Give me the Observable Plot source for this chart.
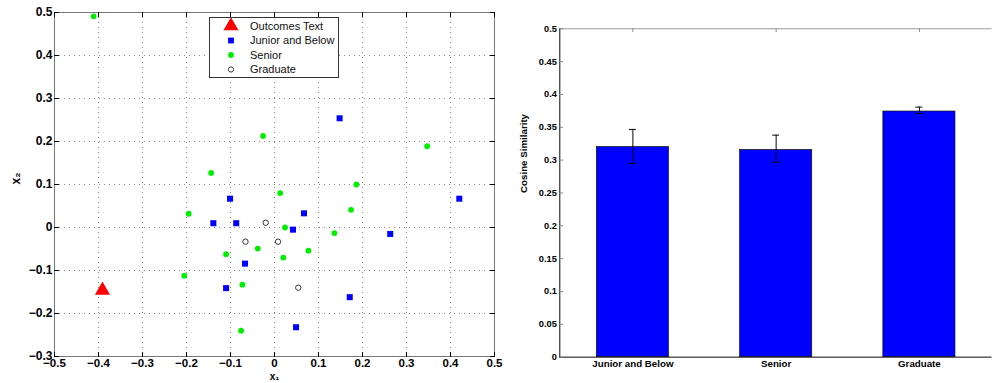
<!DOCTYPE html>
<html><head><meta charset="utf-8">
<script src="https://cdn.jsdelivr.net/npm/d3@7"></script>
<script src="https://cdn.jsdelivr.net/npm/@observablehq/plot@0.6"></script>
<style>
html,body{margin:0;padding:0;background:#fff;}
#wrap{position:relative;width:992px;height:383px;overflow:hidden;background:#fff;font-family:"Liberation Sans",Arial,sans-serif;}
#left,#right,#legend{position:absolute;}
#left{left:0;top:0;}
#right{left:495px;top:0;}
#legend{left:209px;top:17px;}
svg{overflow:visible;}
</style></head><body>
<div id="wrap"><div id="left"></div><div id="right"></div><div id="legend"></div></div>
<script>
// ---------- Left panel data (2-D embedding) ----------
const seriesNames = ["Outcomes Text", "Junior and Below", "Senior", "Graduate"];
const outcomesX = [-0.391];
const outcomesY = [-0.146];
const juniorX = [0.148, -0.101, 0.420, 0.067, -0.139, -0.087, 0.042, 0.263, -0.067, -0.110, 0.171, 0.049];
const juniorY = [0.254, 0.067, 0.067, 0.033, 0.010, 0.010, -0.005, -0.015, -0.084, -0.141, -0.162, -0.232];
const seniorX = [-0.411, -0.026, 0.347, -0.144, 0.186, 0.013, -0.195, 0.174, 0.024, 0.136, -0.038, 0.077, -0.110, 0.020, -0.205, -0.073, -0.076];
const seniorY = [0.491, 0.213, 0.189, 0.127, 0.100, 0.080, 0.032, 0.041, 0.000, -0.013, -0.049, -0.054, -0.062, -0.070, -0.112, -0.133, -0.240];
const gradX = [-0.020, -0.066, 0.008, 0.054];
const gradY = [0.011, -0.033, -0.033, -0.140];
const xTicks = [-0.5, -0.4, -0.3, -0.2, -0.1, 0, 0.1, 0.2, 0.3, 0.4, 0.5];
const yTicks = [-0.3, -0.2, -0.1, 0, 0.1, 0.2, 0.3, 0.4, 0.5];

// ---------- Right panel data (bar chart) ----------
const categories = ["Junior and Below", "Senior", "Graduate"];
const means = [0.320, 0.3155, 0.374];
const errLow = [0.2946, 0.2967, 0.371];
const errHigh = [0.3467, 0.338, 0.3807];
const simTicks = [0, 0.05, 0.1, 0.15, 0.2, 0.25, 0.3, 0.35, 0.4, 0.45, 0.5];

const zipPts = (xs, ys) => xs.map((x, i) => ({x, y: ys[i]}));
const outcomes = zipPts(outcomesX, outcomesY);
const junior = zipPts(juniorX, juniorY);
const senior = zipPts(seniorX, seniorY);
const grad = zipPts(gradX, gradY);
const bars = categories.map((c, i) => ({cat: c, v: means[i], lo: errLow[i], hi: errHigh[i]}));

const tickShape = {draw(ctx, l) { ctx.moveTo(0, 0); ctx.lineTo(0, -l); }};
const inTicks = (data, ch, anchor, rot, len, stroke) =>
  Plot.vector(data, {[ch]: d => d, frameAnchor: anchor, rotate: rot, length: len, anchor: "start", shape: tickShape, stroke, strokeWidth: 1});

const fmt1 = d => d === 0 ? "0" : (d < 0 ? "\u2212" : "") + Math.abs(d).toFixed(1);
const fmt2 = d => d === 0 ? "0" : String(+d.toFixed(2));
const FONT = "Liberation Sans, Arial, sans-serif";

const left = Plot.plot({
  width: 500, height: 383,
  marginLeft: 54, marginRight: 6, marginTop: 12, marginBottom: 27,
  style: {fontFamily: FONT, background: "transparent", overflow: "visible"},
  x: {domain: [-0.5, 0.5], axis: null},
  y: {domain: [-0.3, 0.5], axis: null},
  marks: [
    Plot.gridX(xTicks.slice(1, -1), {stroke: "#8a8a8a", strokeOpacity: 1, strokeDasharray: "1,4"}),
    Plot.gridY(yTicks.slice(1, -1), {stroke: "#8a8a8a", strokeOpacity: 1, strokeDasharray: "1,4"}),
    Plot.frame({stroke: "#777", strokeWidth: 1}),
    inTicks(xTicks, "x", "bottom", 0, 4, "#000"),
    inTicks(xTicks, "x", "top", 180, 4, "#000"),
    inTicks(yTicks, "y", "left", 90, 4, "#000"),
    inTicks(yTicks, "y", "right", -90, 4, "#000"),
    Plot.axisX(xTicks, {tickSize: 0, tickPadding: 2, tickFormat: fmt1, fontSize: 11.5, fontWeight: "bold", fill: "#000", label: null}),
    Plot.axisY(yTicks, {tickSize: 0, tickPadding: 2, tickFormat: fmt1, fontSize: 12, fontWeight: "bold", fill: "#000", label: null}),
    Plot.text(["x\u2081"], {frameAnchor: "bottom", text: d => d, dy: 23, fontSize: 10, fontWeight: "bold", fill: "#000"}),
    Plot.text(["x\u2082"], {frameAnchor: "left", text: d => d, dx: -38, rotate: -90, fontSize: 12, fontWeight: "bold", fill: "#000"}),
    Plot.dot(senior, {x: "x", y: "y", r: 2.9, fill: "#00ee00", symbol: "circle"}),
    Plot.dot(junior, {x: "x", y: "y", r: 3.4, fill: "#0000ff", symbol: "square"}),
    Plot.dot(grad, {x: "x", y: "y", r: 2.7, fill: "none", stroke: "#222", strokeWidth: 0.9, symbol: "circle"}),
    Plot.dot(outcomes, {x: "x", y: "y", r: 5.6, fill: "#ff0000", symbol: "triangle"})
  ]
});
document.getElementById("left").appendChild(left);

// Legend (overlay box inside left axes)
{
  const W = 130, H = 61;
  const svg = d3.select("#legend").append("svg").attr("width", W).attr("height", H).style("display", "block");
  svg.append("rect").attr("x", 0.5).attr("y", 0.5).attr("width", W - 1).attr("height", H - 1)
    .attr("fill", "#fff").attr("stroke", "#333").attr("stroke-width", 1);
  const rowY = [9, 23.5, 38, 52.5];
  const sx = 22;
  seriesNames.forEach((name, i) => {
    const y = rowY[i];
    if (i === 0) svg.append("path").attr("transform", `translate(${sx},${y})`).attr("d", d3.symbol(d3.symbolTriangle, 98)()).attr("fill", "#ff0000");
    if (i === 1) svg.append("path").attr("transform", `translate(${sx},${y})`).attr("d", d3.symbol(d3.symbolSquare, 34)()).attr("fill", "#0000ff");
    if (i === 2) svg.append("circle").attr("cx", sx).attr("cy", y).attr("r", 2.9).attr("fill", "#00ee00");
    if (i === 3) svg.append("circle").attr("cx", sx).attr("cy", y).attr("r", 2.6).attr("fill", "none").attr("stroke", "#222").attr("stroke-width", 0.9);
    svg.append("text").attr("x", 41).attr("y", y).attr("dy", "0.36em").attr("font-family", FONT).attr("font-size", 11).attr("fill", "#111").text(name);
  });
}

const right = Plot.plot({
  width: 510, height: 383,
  marginLeft: 66, marginRight: 1.5, marginTop: 29, marginBottom: 17,
  style: {fontFamily: FONT, background: "transparent", overflow: "visible"},
  x: {type: "band", domain: categories, paddingInner: 0.5, paddingOuter: 0.25, axis: null},
  y: {domain: [0, 0.5], axis: null},
  marks: [
    Plot.barY(bars, {x: "cat", y: "v", fill: "#0000ff", stroke: "#111", strokeWidth: 0.7}),
    Plot.ruleX(bars, {x: "cat", y1: "lo", y2: "hi", stroke: "#000", strokeWidth: 1}),
    Plot.tickY(bars, {x: "cat", y: "lo", stroke: "#000", insetLeft: 33.4, insetRight: 33.4}),
    Plot.tickY(bars, {x: "cat", y: "hi", stroke: "#000", insetLeft: 33.4, insetRight: 33.4}),
    Plot.frame({anchor: "top", stroke: "#999"}),
    Plot.frame({anchor: "left", stroke: "#000"}),
    Plot.frame({anchor: "bottom", stroke: "#000"}),
    inTicks(simTicks, "y", "left", 90, 3, "#888"),
    inTicks(categories, "x", "top", 180, 3, "#888"),
    Plot.axisY(simTicks, {tickSize: 0, tickPadding: 3, tickFormat: fmt2, fontSize: 9.5, fontWeight: "bold", fill: "#000", label: null}),
    Plot.axisX(categories, {tickSize: 0, tickPadding: 3, fontSize: 10, fontWeight: "bold", fill: "#000", label: null}),
    Plot.text(["Cosine Similarity"], {frameAnchor: "left", text: d => d, dx: -37, rotate: -90, fontSize: 10, fontWeight: "bold", fill: "#000"})
  ]
});
document.getElementById("right").appendChild(right);
</script>
</body></html>
